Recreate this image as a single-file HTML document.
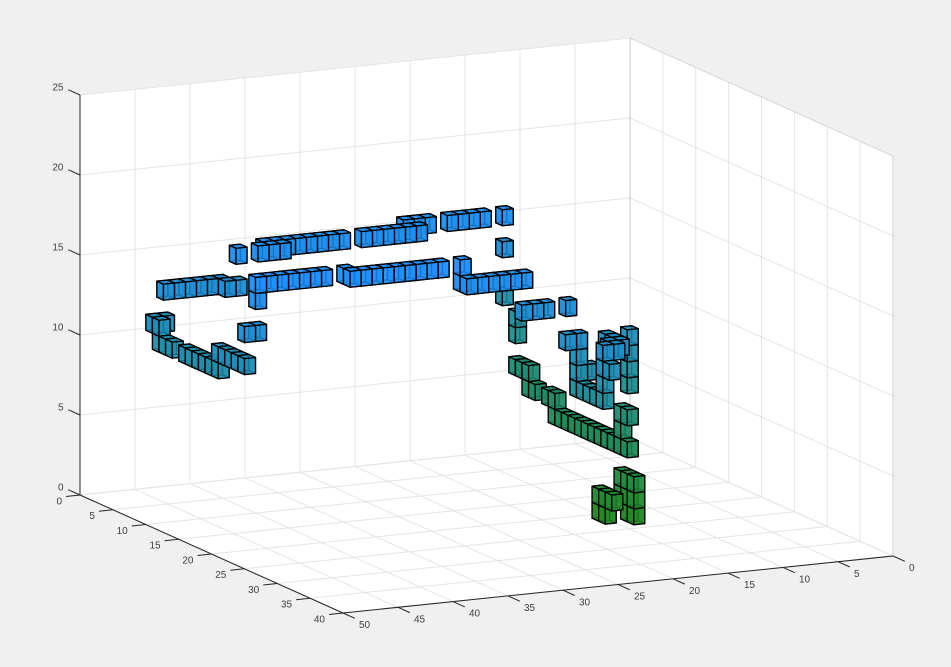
<!DOCTYPE html>
<html lang="en">
<head>
<meta charset="utf-8">
<title>3D voxel chart</title>
<style>
  html, body { margin: 0; padding: 0; background: #f0f0f0; }
  svg { display: block; }
  text { font-family: "Liberation Sans", sans-serif; font-size: 10px; fill: #404040; }
</style>
</head>
<body>
<svg id="chart" xmlns="http://www.w3.org/2000/svg" width="951" height="667" viewBox="0 0 951 667"></svg>
<script>
const xTicks = [0, 5, 10, 15, 20, 25, 30, 35, 40, 45, 50];
const yTicks = [0, 5, 10, 15, 20, 25, 30, 35, 40];
const zTicks = [0, 5, 10, 15, 20, 25];

const upperBackCells = [
  [29,5,15],[30,5,15],[31,5,15],[32,5,15],[33,5,15],[34,5,15],[35,5,15],[36,5,15],
  [35,6,15],[36,6,15],[37,6,15],[39,6,15],
  [22,5,15],[23,5,15],[24,5,15],[25,5,15],[26,5,15],[27,5,15],
  [20,3,15],[21,3,15],[22,3,15],
  [15,3,15],[16,3,15],[17,3,15],[18,3,15],
  [13,3,15],[13,3,13],[13,3,10]
];
const midBackCells = [
  [40,5,13],[41,5,13],[42,5,13],[43,5,13],[44,5,13],[45,5,13],
  [39,6,13],[40,6,13]
];
const upperFrontCells = [
  [39,19,16],[40,19,16],[41,19,16],[42,19,16],[43,19,16],[44,19,16],[45,19,16],
  [45,19,15],[45,19,13],[46,19,13],
  [29,20,16],[30,20,16],[31,20,16],[32,20,16],[33,20,16],[34,20,16],[35,20,16],[36,20,16],[37,20,16],
  [37,19,16],
  [27,20,16],[27,20,15],
  [22,21,15],[23,21,15],[24,21,15],[25,21,15],[26,21,15],[27,21,15],
  [20,21,13],[21,21,13],[22,21,13],[18,21,13]
];
const leftProfileCells = [
  [45,5,11],[46,5,11],[46,6,11],
  [46,6,10],[46,7,10],[46,8,10],
  [46,10,10],[46,11,10],[46,12,10],[46,13,10],[46,14,10],[46,15,10],
  [46,15,11],[46,16,11],[46,17,11],[46,18,11],[46,19,11]
];
const rightProfileCells = [
  [13,5,9],[13,5,8],
  [13,5,6],[13,6,6],[13,7,6],
  [13,7,5],[13,8,5],
  [13,10,5],[13,11,5],
  [13,11,4],[13,12,4],[13,13,4],[13,14,4],[13,15,4],[13,16,4],[13,17,4],[13,18,4],[13,19,4],[13,20,4],[13,21,4],[13,22,4],
  [13,21,5],[13,21,6],[13,22,6],
  [13,22,8],[13,22,9],[13,22,10],[13,22,11]
];
const towerCells = [
  [20,26,9],[20,26,10],[20,26,11],[20,26,12],[21,26,12],
  [20,27,9],[20,28,9],[20,29,9],[20,30,9],
  [20,30,10],[20,30,11],[20,30,12],
  [19,26,10],
  [18,27,12],[18,28,12],[18,29,12],
  [19,29,12],[19,30,12],
  [20,31,11]
];
const floorCells = [
  [13,21,1],[13,21,2],
  [13,22,0],[13,22,1],[13,22,2],
  [13,23,0],[13,23,1],[13,23,2],
  [15,21,0],[15,21,1],[15,22,0],[15,22,1],[15,23,1]
];

const svgNS = 'http://www.w3.org/2000/svg';
const svg = document.getElementById('chart');

function screenX(x, y) { return 630 + 6.575 * y - 11 * x; }
function screenY(x, y, z) { return 438 + 2.95 * y + 1.14 * x - 16 * z; }
function pt(p) { return screenX(p[0], p[1]).toFixed(2) + ',' + screenY(p[0], p[1], p[2]).toFixed(2); }

function addLine(a, b, color, width, name) {
  const el = document.createElementNS(svgNS, 'line');
  el.setAttribute('x1', screenX(a[0], a[1]));
  el.setAttribute('y1', screenY(a[0], a[1], a[2]));
  el.setAttribute('x2', screenX(b[0], b[1]));
  el.setAttribute('y2', screenY(b[0], b[1], b[2]));
  el.setAttribute('stroke', color);
  el.setAttribute('stroke-width', width);
  
  
  svg.appendChild(el);
}
function addLabel(px, py, anchor, value, name) {
  const el = document.createElementNS(svgNS, 'text');
  el.setAttribute('x', px);
  el.setAttribute('y', py);
  el.setAttribute('text-anchor', anchor);
  
  
  el.textContent = String(value);
  svg.appendChild(el);
}

const xMax = xTicks[xTicks.length - 1];
const yMax = yTicks[yTicks.length - 1];
const zMax = zTicks[zTicks.length - 1];

/* plot background */
const bg = document.createElementNS(svgNS, 'polygon');
bg.setAttribute('points', [[xMax,0,zMax],[0,0,zMax],[0,yMax,zMax],[0,yMax,0],[xMax,yMax,0],[xMax,0,0]].map(pt).join(' '));
bg.setAttribute('fill', '#ffffff');


svg.appendChild(bg);

/* grid */
const gridColor = '#e4e4e4';
xTicks.forEach(function (t) {
  addLine([t,0,0], [t,0,zMax], gridColor, 1, 'back-wall-x-gridline');
  addLine([t,0,0], [t,yMax,0], gridColor, 1, 'floor-x-gridline');
});
yTicks.forEach(function (t) {
  addLine([0,t,0], [0,t,zMax], gridColor, 1, 'side-wall-y-gridline');
  addLine([0,t,0], [xMax,t,0], gridColor, 1, 'floor-y-gridline');
});
zTicks.forEach(function (t) {
  addLine([0,0,t], [xMax,0,t], gridColor, 1, 'back-wall-z-gridline');
  addLine([0,0,t], [0,yMax,t], gridColor, 1, 'side-wall-z-gridline');
});
addLine([0,0,0], [0,0,zMax], '#c4c4c4', 1, 'back-corner-edge');
addLine([0,yMax,0], [0,yMax,zMax], '#d0d0d0', 1, 'right-corner-edge');
addLine([0,0,zMax], [0,yMax,zMax], '#d8d8d8', 1, 'top-right-edge');

/* voxels */
const allCells = [].concat(upperBackCells, midBackCells, upperFrontCells, leftProfileCells, rightProfileCells, towerCells, floorCells);
const gradientTop = 16;
function cellColor(z) {
  const t = Math.min(1, z / gradientTop);
  const r = Math.round(34 + (30 - 34) * t);
  const g = Math.round(139 + (144 - 139) * t);
  const b = Math.round(34 + (255 - 34) * t);
  return 'rgb(' + r + ',' + g + ',' + b + ')';
}
allCells.sort(function (a, b) {
  return (a[0] + 1.5 * a[1] + 0.8 * a[2]) - (b[0] + 1.5 * b[1] + 0.8 * b[2]);
});
allCells.forEach(function (c) {
  const x = c[0], y = c[1], z = c[2];
  const g = document.createElementNS(svgNS, 'g');
  
  
  const color = cellColor(z);
  const faces = [
    [[x,y,z],[x+1,y,z],[x+1,y+1,z],[x,y+1,z]],
    [[x,y,z],[x+1,y,z],[x+1,y,z+1],[x,y,z+1]],
    [[x,y,z],[x,y+1,z],[x,y+1,z+1],[x,y,z+1]],
    [[x+1,y,z],[x+1,y+1,z],[x+1,y+1,z+1],[x+1,y,z+1]],
    [[x,y+1,z],[x+1,y+1,z],[x+1,y+1,z+1],[x,y+1,z+1]],
    [[x,y,z+1],[x+1,y,z+1],[x+1,y+1,z+1],[x,y+1,z+1]]
  ];
  faces.forEach(function (f) {
    const p = document.createElementNS(svgNS, 'polygon');
    p.setAttribute('points', f.map(pt).join(' '));
    p.setAttribute('fill', color);
    p.setAttribute('fill-opacity', '0.8');
    p.setAttribute('stroke', '#000000');
    p.setAttribute('stroke-width', '1.3');
    p.setAttribute('stroke-linejoin', 'round');
    g.appendChild(p);
  });
  svg.appendChild(g);
});

/* axes */
const axisColor = '#262626';
addLine([xMax,0,0], [xMax,0,zMax], axisColor, 1, 'z-axis-line');
addLine([xMax,0,0], [xMax,yMax,0], axisColor, 1, 'y-axis-line');
addLine([xMax,yMax,0], [0,yMax,0], axisColor, 1, 'x-axis-line');

zTicks.forEach(function (t) {
  addLine([xMax,0,t], [xMax,-1.8,t], axisColor, 1, 'z-tick');
  addLabel(screenX(xMax,0) - 16.5, screenY(xMax,0,t) - 8.3 + 3.6, 'end', t, 'z-tick-label');
});
yTicks.forEach(function (t) {
  addLine([xMax,t,0], [xMax + 1.27,t,0], axisColor, 1, 'y-tick');
  addLabel(screenX(xMax,t) - 18, screenY(xMax,t,0) + 5.8 + 3.6, 'end', t, 'y-tick-label');
});
xTicks.forEach(function (t) {
  addLine([t,yMax,0], [t,yMax + 1.8,0], axisColor, 1, 'x-tick');
  addLabel(screenX(t,yMax) + 16, screenY(t,yMax,0) + 11.5 + 3.6, 'start', t, 'x-tick-label');
});
</script>
</body>
</html>
